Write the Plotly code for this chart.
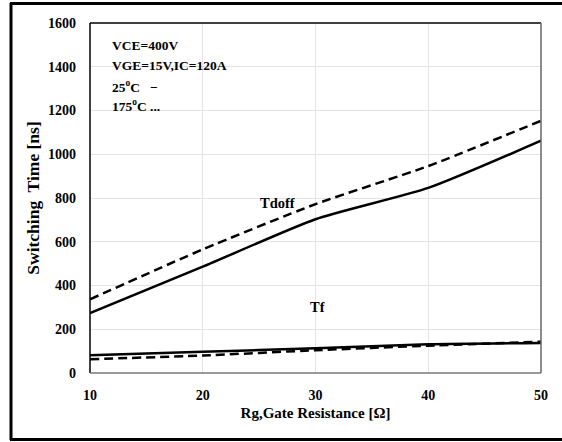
import plotly.graph_objects as go

rg = [10, 20, 30, 40, 50]
tdoff_25 = [274, 486, 703, 846, 1062]
tdoff_175 = [337, 565, 772, 946, 1153]
tf_25 = [81, 97, 113, 131, 137]
tf_175 = [63, 80, 104, 125, 143]

x_ticks = [10, 20, 30, 40, 50]
y_ticks = [0, 200, 400, 600, 800, 1000, 1200, 1400, 1600]

FONT = "Liberation Serif"
W, H = 562, 442
L, R, T, B = 90, 21, 23, 69

fig = go.Figure()
line_solid = dict(color="black", width=2.5, shape="spline", smoothing=0.6)
line_dash = dict(color="black", width=2.5, dash="9px,5px", shape="spline", smoothing=0.6)
fig.add_trace(go.Scatter(x=rg, y=tdoff_25, mode="lines", line=line_solid, showlegend=False))
fig.add_trace(go.Scatter(x=rg, y=tdoff_175, mode="lines", line=line_dash, showlegend=False))
fig.add_trace(go.Scatter(x=rg, y=tf_25, mode="lines", line=line_solid, showlegend=False))
fig.add_trace(go.Scatter(x=rg, y=tf_175, mode="lines", line=line_dash, showlegend=False))

bold = dict(family=FONT, size=13.5, color="black", weight="bold")
notes = [
    ("VCE=400V", 1499),
    ("VGE=15V,IC=120A", 1408),
    ("25<sup>o</sup>C   \u2212", 1312),
    ("175<sup>o</sup>C ...", 1221),
]
for txt, yv in notes:
    fig.add_annotation(x=11.75, y=yv, text=txt, showarrow=False, xanchor="left",
                       yanchor="middle", font=bold)
fig.add_annotation(x=26.6, y=778, text="Tdoff", showarrow=False,
                   font=dict(family=FONT, size=14.5, color="black", weight="bold"))
fig.add_annotation(x=30.2, y=300, text="Tf", showarrow=False,
                   font=dict(family=FONT, size=14.5, color="black", weight="bold"))

def px2paper_x(px):
    return (px - L) / (W - L - R)

def px2paper_y(py):
    return (H - B - py) / (H - T - B)

shapes = [
    dict(type="line", xref="paper", yref="paper", x0=0, x1=0, y0=0, y1=1, line=dict(color="black", width=1.5)),
    dict(type="line", xref="paper", yref="paper", x0=0, x1=1, y0=1, y1=1, line=dict(color="black", width=1.5)),
    dict(type="line", xref="paper", yref="paper", x0=1, x1=1, y0=0, y1=1, line=dict(color="#666666", width=1.5)),
    dict(type="line", xref="paper", yref="paper", x0=0, x1=1, y0=0, y1=0, line=dict(color="#777777", width=1.5)),
    dict(type="line", xref="paper", yref="paper", x0=px2paper_x(11), x1=px2paper_x(11),
         y0=px2paper_y(3), y1=px2paper_y(440), line=dict(color="black", width=3)),
    dict(type="line", xref="paper", yref="paper", x0=px2paper_x(10), x1=px2paper_x(562),
         y0=px2paper_y(3.5), y1=px2paper_y(3.5), line=dict(color="black", width=3)),
    dict(type="line", xref="paper", yref="paper", x0=px2paper_x(10), x1=px2paper_x(562),
         y0=px2paper_y(439.5), y1=px2paper_y(439.5), line=dict(color="black", width=3)),
]

tickfont = dict(family=FONT, size=14, color="black", weight="bold")
fig.update_layout(
    width=W, height=H,
    margin=dict(l=L, r=R, t=T, b=B),
    paper_bgcolor="white", plot_bgcolor="white",
    shapes=shapes,
    xaxis=dict(range=[10, 50], tickvals=x_ticks, ticktext=[str(v) for v in x_ticks],
               showgrid=True, gridcolor="#e3e3e3", gridwidth=1, zeroline=False, showline=False,
               tickfont=tickfont, ticklabelstandoff=12,
               title=dict(text="Rg,Gate Resistance [\u03a9]",
                          font=dict(family=FONT, size=15, color="black", weight="bold"), standoff=5)),
    yaxis=dict(range=[0, 1600], tickvals=y_ticks, ticktext=[str(v) for v in y_ticks],
               showgrid=True, gridcolor="#e3e3e3", gridwidth=1, zeroline=False, showline=False,
               tickfont=tickfont, ticklabelstandoff=13,
               title=dict(text="Switching  Time [ns]",
                          font=dict(family=FONT, size=17.5, color="black", weight="bold"), standoff=3)),
)

fig.write_html("out.html", config={"displayModeBar": False},
               post_script="document.body.style.margin='0px';document.body.style.overflow='hidden';document.documentElement.style.overflow='hidden';")
